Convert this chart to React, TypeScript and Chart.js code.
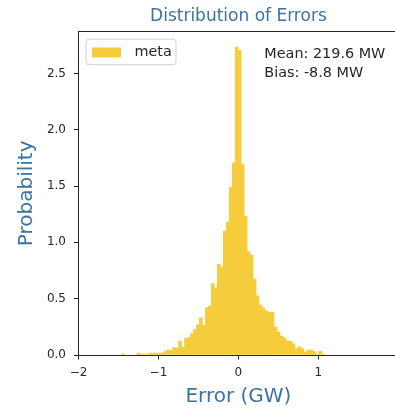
import React, { useEffect, useRef } from "react";
import { Chart, registerables } from "chart.js";

Chart.register(...registerables);

// Histogram bins (GW): left edge of the first bin and the common bin width
const binStart = -1.458;
const binWidth = 0.03732;

// Probability density of each bin, left to right
const density = [
  0.01, 0, 0, 0, 0, 0.018, 0.009, 0.009, 0.009, 0.018,
  0.018, 0.018, 0.018, 0.018, 0.03, 0.047, 0.04, 0.065, 0.06, 0.124,
  0.07, 0.15, 0.155, 0.19, 0.225, 0.27, 0.33, 0.263, 0.42, 0.435,
  0.635, 0.597, 0.804, 0.783, 1.099, 1.18, 1.49, 1.705, 2.733, 2.704,
  1.69, 1.232, 0.916, 0.886, 0.675, 0.525, 0.443, 0.417, 0.39, 0.378,
  0.378, 0.248, 0.205, 0.167, 0.152, 0.126, 0.121, 0.1, 0.055, 0.072,
  0.058, 0.027, 0.044, 0.044, 0.03, 0.008, 0.032, 0.005,
];

const seriesLabel = "meta";
const chartTitle = "Distribution of Errors";
const xTitle = "Error (GW)";
const yTitle = "Probability";
const statLines = ["Mean: 219.6 MW", "Bias: -8.8 MW"];

const xRange = [-2, 2];
const yRange = [0, 2.87];
const xTicks = [-2, -1, 0, 1, 2];
const yTicks = [0, 0.5, 1.0, 1.5, 2.0, 2.5];

const FONT = "'DejaVu Sans', 'Noto Sans', sans-serif";
const BAR_COLOR = "#f5cd3c";
const LABEL_BLUE = "#3d73a0";
const AXIS_COLOR = "#262626";
const TEXT_COLOR = "#262626";

// Draws the top spine, the legend box and the statistics text
const overlayPlugin = {
  id: "overlay",
  afterDraw(chart: any) {
    const { ctx, chartArea: a } = chart;
    ctx.save();

    // top spine
    ctx.strokeStyle = AXIS_COLOR;
    ctx.lineWidth = 1;
    ctx.beginPath();
    const topY = Math.floor(a.top) + 0.5;
    ctx.moveTo(a.left, topY);
    ctx.lineTo(a.right, topY);
    ctx.stroke();

    // legend
    const fx = a.left + 7.5;
    const fy = a.top + 7.5;
    const fw = 90;
    const fh = 25.5;
    const r = 3;
    ctx.beginPath();
    ctx.moveTo(fx + r, fy);
    ctx.lineTo(fx + fw - r, fy);
    ctx.arcTo(fx + fw, fy, fx + fw, fy + r, r);
    ctx.lineTo(fx + fw, fy + fh - r);
    ctx.arcTo(fx + fw, fy + fh, fx + fw - r, fy + fh, r);
    ctx.lineTo(fx + r, fy + fh);
    ctx.arcTo(fx, fy + fh, fx, fy + fh - r, r);
    ctx.lineTo(fx, fy + r);
    ctx.arcTo(fx, fy, fx + r, fy, r);
    ctx.closePath();
    ctx.fillStyle = "rgba(255,255,255,0.8)";
    ctx.fill();
    ctx.strokeStyle = "#d0d0d0";
    ctx.stroke();

    const cy = fy + fh / 2 + 0.5;
    ctx.fillStyle = BAR_COLOR;
    ctx.fillRect(fx + 6, cy - 5, 29, 10);
    ctx.fillStyle = TEXT_COLOR;
    ctx.font = `14.4px ${FONT}`;
    ctx.textBaseline = "middle";
    ctx.textAlign = "left";
    ctx.fillText(chart.data.datasets[0].label, fx + 48.5, cy);

    // statistics text
    ctx.textBaseline = "alphabetic";
    const tx = a.left + 0.581 * (a.right - a.left);
    statLines.forEach((line, i) => {
      ctx.fillText(line, tx, a.top + 26.3 + i * 18.5);
    });

    ctx.restore();
  },
};

const fmtX = (v: number) => (v < 0 ? "\u2212" + Math.abs(v) : String(v));

export default function App() {
  const canvasRef = useRef<HTMLCanvasElement | null>(null);

  useEffect(() => {
    if (!canvasRef.current) return;
    Chart.defaults.font.family = FONT;

    const bins = density.map((d, i) => ({
      x: binStart + (i + 0.5) * binWidth,
      y: d > 0 ? d : null,
    }));

    const chart = new Chart(canvasRef.current, {
      type: "bar",
      data: {
        datasets: [
          {
            label: seriesLabel,
            data: bins as any,
            backgroundColor: BAR_COLOR,
            borderWidth: 0,
            barPercentage: 1,
            categoryPercentage: 1,
          },
        ],
      },
      options: {
        animation: false,
        responsive: false,
        devicePixelRatio: 1,
        layout: { padding: { left: 0, top: 0, right: 11.7, bottom: 0 } },
        plugins: {
          legend: { display: false },
          tooltip: { enabled: false },
          title: {
            display: true,
            text: chartTitle,
            color: LABEL_BLUE,
            fullSize: false,
            font: { family: FONT, size: 17, weight: "normal" as any, lineHeight: 1.2 },
            padding: { top: 6.3, bottom: 5 },
          },
        },
        scales: {
          x: {
            type: "linear",
            min: xRange[0],
            max: xRange[1],
            offset: false,
            z: 1,
            afterBuildTicks: (s: any) => {
              s.ticks = xTicks.map((v) => ({ value: v }));
            },
            afterFit: (s: any) => {
              s.height = 53;
            },
            ticks: {
              color: TEXT_COLOR,
              font: { family: FONT, size: 12 },
              padding: 6,
              maxRotation: 0,
              autoSkip: false,
              callback: (v: any) => fmtX(Number(v)),
            },
            grid: {
              display: true,
              drawOnChartArea: false,
              drawTicks: true,
              tickLength: 4.5,
              tickColor: AXIS_COLOR,
              tickWidth: 1,
              offset: false,
            },
            border: { display: true, color: AXIS_COLOR, width: 1 },
            title: {
              display: true,
              text: xTitle,
              color: LABEL_BLUE,
              font: { family: FONT, size: 20, lineHeight: 1 },
              padding: { top: 0, bottom: 1 },
            },
          },
          y: {
            type: "linear",
            min: yRange[0],
            max: yRange[1],
            z: 1,
            afterBuildTicks: (s: any) => {
              s.ticks = yTicks.map((v) => ({ value: v }));
            },
            afterFit: (s: any) => {
              s.width = 78.5;
            },
            ticks: {
              color: TEXT_COLOR,
              font: { family: FONT, size: 12 },
              padding: 8,
              autoSkip: false,
              callback: (v: any) => Number(v).toFixed(1),
            },
            grid: {
              display: true,
              drawOnChartArea: false,
              drawTicks: true,
              tickLength: 4.5,
              tickColor: AXIS_COLOR,
              tickWidth: 1,
            },
            border: { display: true, color: AXIS_COLOR, width: 1 },
            title: {
              display: true,
              text: yTitle,
              color: LABEL_BLUE,
              font: { family: FONT, size: 20, lineHeight: 1 },
              padding: { top: 17, bottom: 0 },
            },
          },
        },
      },
      plugins: [overlayPlugin],
    });

    return () => chart.destroy();
  }, []);

  return (
    <div
      style={{
        position: "absolute",
        left: 0,
        top: 0,
        width: 395,
        height: 408,
        overflow: "hidden",
        background: "#fff",
      }}
    >
      <canvas ref={canvasRef} width={410} height={408} style={{ display: "block" }} />
    </div>
  );
}
